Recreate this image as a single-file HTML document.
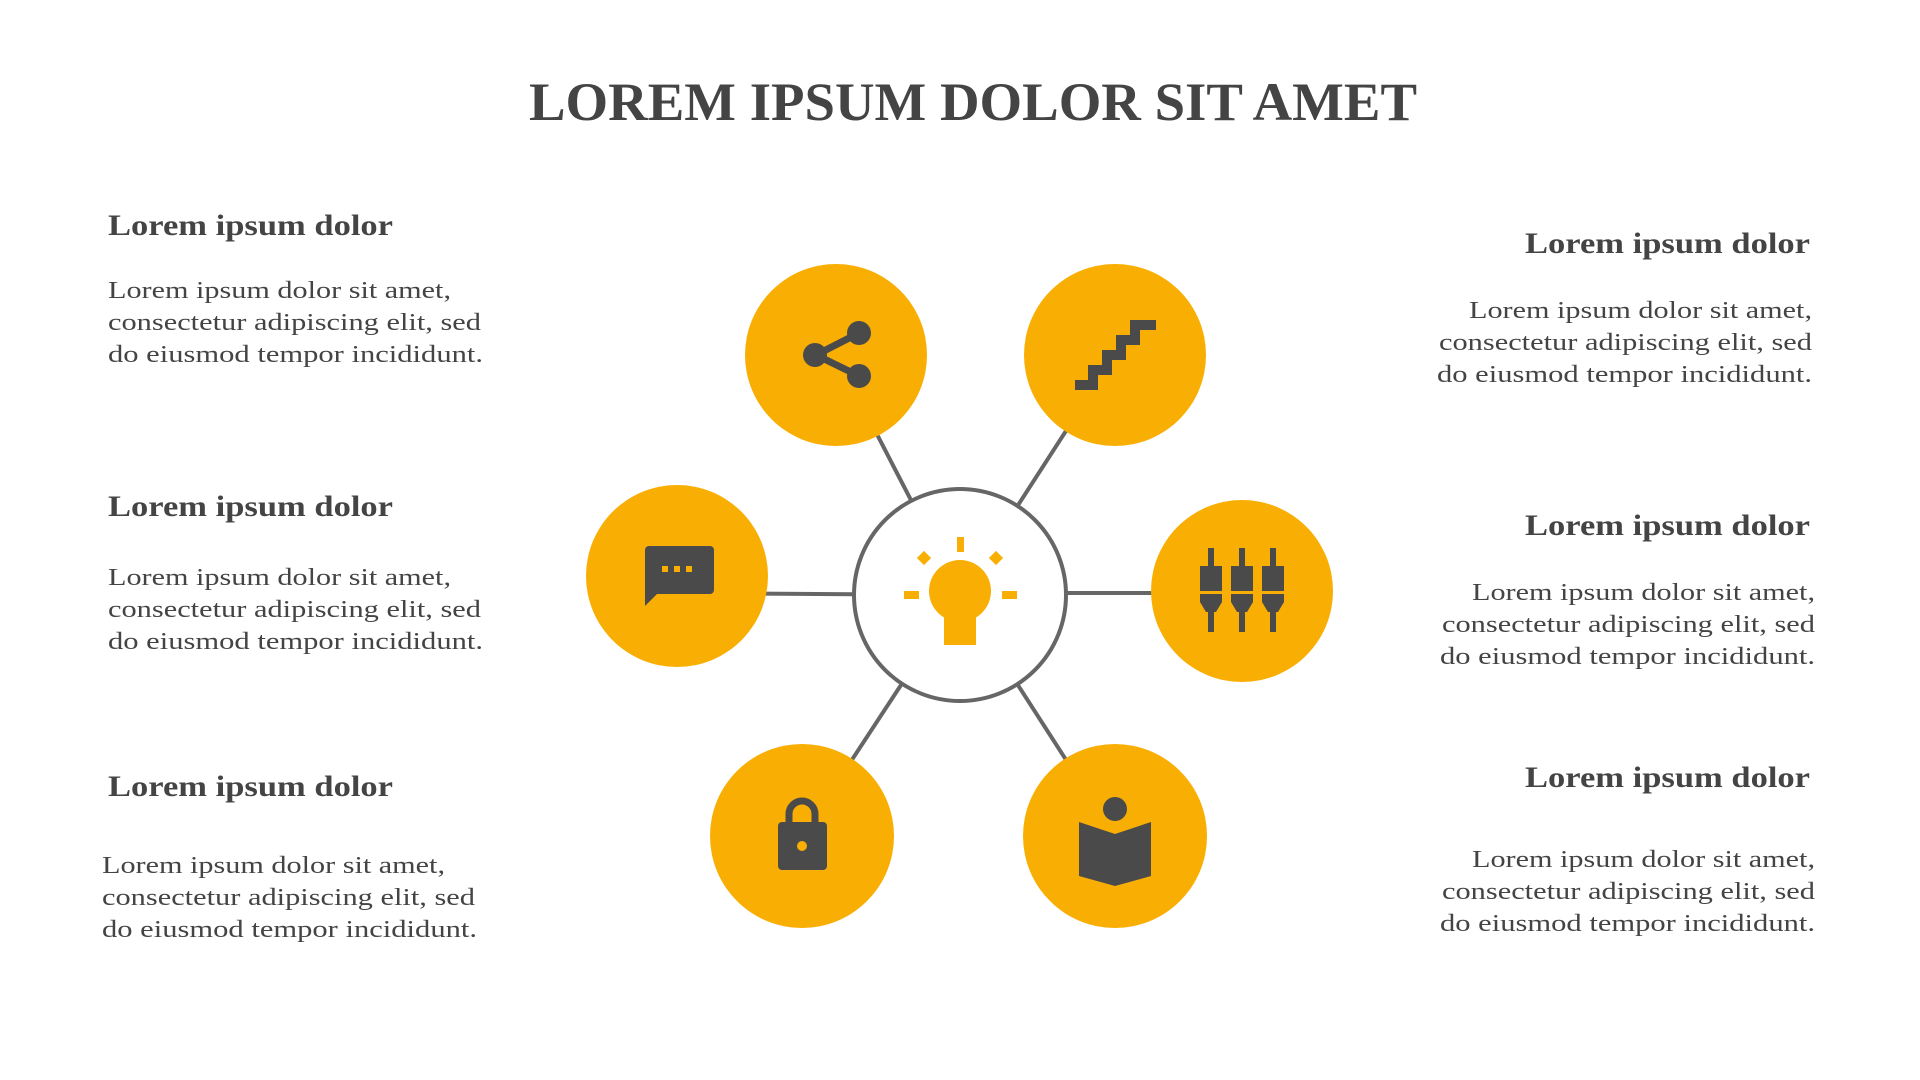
<!DOCTYPE html>
<html><head><meta charset="utf-8"><style>
html,body{margin:0;padding:0;background:#fff;}
svg{display:block;}
text{font-family:"Liberation Serif",serif;fill:#444;}
.h{font-weight:bold;font-size:30px;}
.b{font-size:24px;}
</style></head><body>
<svg width="1920" height="1080" viewBox="0 0 1920 1080">
<text x="973" y="120" text-anchor="middle" font-weight="bold" font-size="54" textLength="888" lengthAdjust="spacingAndGlyphs">LOREM IPSUM DOLOR SIT AMET</text>

<text class="h" x="108" y="235" textLength="285" lengthAdjust="spacingAndGlyphs">Lorem ipsum dolor</text>
<text class="b" x="108" y="298" textLength="343" lengthAdjust="spacingAndGlyphs">Lorem ipsum dolor sit amet,</text>
<text class="b" x="108" y="330" textLength="373" lengthAdjust="spacingAndGlyphs">consectetur adipiscing elit, sed</text>
<text class="b" x="108" y="362" textLength="375" lengthAdjust="spacingAndGlyphs">do eiusmod tempor incididunt.</text>

<text class="h" x="108" y="516" textLength="285" lengthAdjust="spacingAndGlyphs">Lorem ipsum dolor</text>
<text class="b" x="108" y="585" textLength="343" lengthAdjust="spacingAndGlyphs">Lorem ipsum dolor sit amet,</text>
<text class="b" x="108" y="617" textLength="373" lengthAdjust="spacingAndGlyphs">consectetur adipiscing elit, sed</text>
<text class="b" x="108" y="649" textLength="375" lengthAdjust="spacingAndGlyphs">do eiusmod tempor incididunt.</text>

<text class="h" x="108" y="796" textLength="285" lengthAdjust="spacingAndGlyphs">Lorem ipsum dolor</text>
<text class="b" x="102" y="873" textLength="343" lengthAdjust="spacingAndGlyphs">Lorem ipsum dolor sit amet,</text>
<text class="b" x="102" y="905" textLength="373" lengthAdjust="spacingAndGlyphs">consectetur adipiscing elit, sed</text>
<text class="b" x="102" y="937" textLength="375" lengthAdjust="spacingAndGlyphs">do eiusmod tempor incididunt.</text>

<text class="h" x="1810" y="253" text-anchor="end" textLength="285" lengthAdjust="spacingAndGlyphs">Lorem ipsum dolor</text>
<text class="b" x="1812" y="318" text-anchor="end" textLength="343" lengthAdjust="spacingAndGlyphs">Lorem ipsum dolor sit amet,</text>
<text class="b" x="1812" y="350" text-anchor="end" textLength="373" lengthAdjust="spacingAndGlyphs">consectetur adipiscing elit, sed</text>
<text class="b" x="1812" y="382" text-anchor="end" textLength="375" lengthAdjust="spacingAndGlyphs">do eiusmod tempor incididunt.</text>

<text class="h" x="1810" y="535" text-anchor="end" textLength="285" lengthAdjust="spacingAndGlyphs">Lorem ipsum dolor</text>
<text class="b" x="1815" y="600" text-anchor="end" textLength="343" lengthAdjust="spacingAndGlyphs">Lorem ipsum dolor sit amet,</text>
<text class="b" x="1815" y="632" text-anchor="end" textLength="373" lengthAdjust="spacingAndGlyphs">consectetur adipiscing elit, sed</text>
<text class="b" x="1815" y="664" text-anchor="end" textLength="375" lengthAdjust="spacingAndGlyphs">do eiusmod tempor incididunt.</text>

<text class="h" x="1810" y="787" text-anchor="end" textLength="285" lengthAdjust="spacingAndGlyphs">Lorem ipsum dolor</text>
<text class="b" x="1815" y="867" text-anchor="end" textLength="343" lengthAdjust="spacingAndGlyphs">Lorem ipsum dolor sit amet,</text>
<text class="b" x="1815" y="899" text-anchor="end" textLength="373" lengthAdjust="spacingAndGlyphs">consectetur adipiscing elit, sed</text>
<text class="b" x="1815" y="931" text-anchor="end" textLength="375" lengthAdjust="spacingAndGlyphs">do eiusmod tempor incididunt.</text>

<g stroke="#666" stroke-width="4">
<line x1="960" y1="595" x2="836" y2="355"/>
<line x1="960" y1="595" x2="1115" y2="355"/>
<line x1="960" y1="595" x2="677" y2="593"/>
<line x1="960" y1="593" x2="1242" y2="593"/>
<line x1="960" y1="595" x2="802" y2="836"/>
<line x1="960" y1="595" x2="1115" y2="836"/>
</g>
<circle cx="960" cy="595" r="106" fill="#fff" stroke="#666" stroke-width="4"/>

<g fill="#F9AE03">
<circle cx="836" cy="355" r="91"/>
<circle cx="1115" cy="355" r="91"/>
<circle cx="677" cy="576" r="91"/>
<circle cx="1242" cy="591" r="91"/>
<circle cx="802" cy="836" r="92"/>
<circle cx="1115" cy="836" r="92"/>
</g>

<g fill="#F9AE03">
<circle cx="960" cy="591" r="31"/>
<rect x="944" y="600" width="32" height="45"/>
<rect x="957" y="537" width="7" height="15"/>
<rect x="904" y="591" width="15" height="8"/>
<rect x="1002" y="591" width="15" height="8"/>
<rect x="919" y="553" width="10" height="10" transform="rotate(45 924 558)"/>
<rect x="991" y="553" width="10" height="10" transform="rotate(45 996 558)"/>
</g>

<g fill="#4a4a4a" stroke="#4a4a4a">
<g stroke-width="7">
<line x1="816" y1="355" x2="859" y2="333"/>
<line x1="816" y1="355" x2="859" y2="376"/>
</g>
<circle cx="815" cy="355" r="12" stroke="none"/>
<circle cx="859" cy="333" r="12" stroke="none"/>
<circle cx="859" cy="376" r="12" stroke="none"/>
<polyline fill="none" stroke-width="10" points="1075,385 1093,385 1093,370 1107,370 1107,355 1121,355 1121,340 1135,340 1135,325 1156,325"/>
<path stroke="none" d="M647,546 h63 a4,4 0 0 1 4,4 v40 a4,4 0 0 1 -4,4 h-53 l-12,12 v-56 a4,4 0 0 1 4,-4z"/>
<g fill="#F9AE03" stroke="none">
<rect x="662" y="566" width="6" height="6"/><rect x="674" y="566" width="6" height="6"/><rect x="686" y="566" width="6" height="6"/>
</g>
<g stroke="none">
<rect x="1208" y="548" width="6" height="84"/><rect x="1239" y="548" width="6" height="84"/><rect x="1270" y="548" width="6" height="84"/>
<path d="M1200,566 h22 v36 l-6,10 h-10 l-6,-10z"/>
<path d="M1231,566 h22 v36 l-6,10 h-10 l-6,-10z"/>
<path d="M1262,566 h22 v36 l-6,10 h-10 l-6,-10z"/>
</g>
<g fill="#F9AE03" stroke="none"><rect x="1198" y="591" width="88" height="3"/></g>
<path fill="none" stroke-width="7" d="M789,824 v-10 a13,13 0 0 1 26,0 v10"/>
<rect x="778" y="822" width="49" height="48" rx="4" stroke="none"/>
<circle cx="802" cy="846" r="5" fill="#F9AE03" stroke="none"/>
<circle cx="1115" cy="809" r="12" stroke="none"/>
<path stroke="none" d="M1079,822 l36,12 l36,-12 v54 l-36,10 l-36,-10z"/>
</g>
</svg>
</body></html>
